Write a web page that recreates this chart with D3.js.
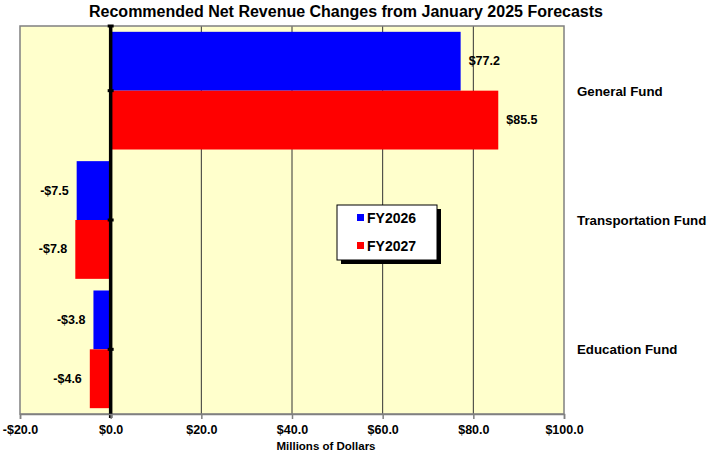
<!DOCTYPE html>
<html>
<head>
<meta charset="utf-8">
<script src="https://cdn.jsdelivr.net/npm/d3@7"></script>
<style>
  body { margin: 0; background: #fff; }
  text { font-family: "Liberation Sans", Arial, sans-serif; font-weight: bold; }
</style>
</head>
<body>
<div id="chart"></div>
<script>
const categories = ['General Fund', 'Transportation Fund', 'Education Fund']
const seriesNames = ['FY2026', 'FY2027']
const fy2026 = [77.2, -7.5, -3.8]
const fy2027 = [85.5, -7.8, -4.6]
const xTicks = [-20, 0, 20, 40, 60, 80, 100]
const colors = ['#0000ff', '#ff0000']

const width = 709, height = 456
const margin = { top: 26, right: 145, bottom: 42, left: 20 }
const innerW = width - margin.left - margin.right
const innerH = height - margin.top - margin.bottom

const svg = d3.select('#chart').append('svg')
  .attr('width', width).attr('height', height)

svg.append('text')
  .attr('x', 346).attr('y', 17)
  .attr('text-anchor', 'middle')
  .style('font-size', '16px')
  .text('Recommended Net Revenue Changes from January 2025 Forecasts')

const g = svg.append('g').attr('transform', `translate(${margin.left},${margin.top})`)

const x = d3.scaleLinear().domain([-20, 100]).range([0, innerW])
const y = d3.scaleBand().domain(categories).range([0, innerH]).paddingInner(0.09).paddingOuter(0.045)
const ySub = d3.scaleBand().domain(seriesNames).range([0, y.bandwidth()])

// plot background
g.append('rect')
  .attr('width', innerW).attr('height', innerH)
  .attr('fill', '#ffffcc')

// gridlines
g.selectAll('.grid').data(xTicks.filter(d => d > 0 && d < 100)).join('line')
  .attr('x1', d => x(d)).attr('x2', d => x(d))
  .attr('y1', 0).attr('y2', innerH)
  .attr('stroke', '#333').attr('stroke-width', 1)

// bars
const rows = categories.map((c, i) => ({ cat: c, vals: [fy2026[i], fy2027[i]] }))
const grp = g.selectAll('.cat').data(rows).join('g')
  .attr('transform', d => `translate(0,${y(d.cat)})`)

grp.selectAll('rect').data(d => d.vals.map((v, j) => ({ v, s: seriesNames[j], j })))
  .join('rect')
  .attr('x', d => x(Math.min(0, d.v)))
  .attr('width', d => Math.abs(x(d.v) - x(0)))
  .attr('y', d => ySub(d.s))
  .attr('height', ySub.bandwidth())
  .attr('fill', d => colors[d.j])

grp.selectAll('.lbl').data(d => d.vals.map((v, j) => ({ v, s: seriesNames[j], j })))
  .join('text')
  .attr('x', d => d.v >= 0 ? x(d.v) + 8 : x(d.v) - 8)
  .attr('y', d => ySub(d.s) + ySub.bandwidth() / 2 + 4)
  .attr('text-anchor', d => d.v >= 0 ? 'start' : 'end')
  .style('font-size', '12.5px')
  .text(d => (d.v < 0 ? '-$' : '$') + Math.abs(d.v).toFixed(1))

// border
g.append('rect')
  .attr('width', innerW).attr('height', innerH)
  .attr('fill', 'none').attr('stroke', '#808080').attr('stroke-width', 1.5)

// zero axis
g.append('line')
  .attr('x1', x(0)).attr('x2', x(0))
  .attr('y1', 0).attr('y2', innerH + 4)
  .attr('stroke', '#000').attr('stroke-width', 3.5)

const yTickPos = [0].concat(categories.map(c => y(c) + y.bandwidth() / 2))
g.selectAll('.ytick').data(yTickPos).join('line')
  .attr('x1', x(0) - 3).attr('x2', x(0) + 3)
  .attr('y1', d => d).attr('y2', d => d)
  .attr('stroke', '#000').attr('stroke-width', 3)

// category labels
g.selectAll('.catlbl').data(categories).join('text')
  .attr('x', innerW + 13)
  .attr('y', d => y(d) + y.bandwidth() / 2 + 5)
  .style('font-size', '13.3px')
  .text(d => d)

// x axis
const xAxis = g.append('g').attr('transform', `translate(0,${innerH})`)
  .call(d3.axisBottom(x).tickValues(xTicks).tickSize(5).tickFormat(d => (d < 0 ? '-$' : '$') + Math.abs(d).toFixed(1)))
xAxis.select('.domain').attr('stroke', '#808080').attr('stroke-width', 1.5)
xAxis.selectAll('.tick line').attr('stroke', '#808080').attr('stroke-width', 1.5)
xAxis.selectAll('.tick text')
  .attr('y', 11)
  .attr('fill', '#000')
  .style('font-size', '12.5px')
  .style('font-family', '"Liberation Sans", Arial, sans-serif')
  .style('font-weight', 'bold')

svg.append('text')
  .attr('x', 326).attr('y', 450)
  .attr('text-anchor', 'middle')
  .style('font-size', '11.5px')
  .text('Millions of Dollars')

// legend
const lg = svg.append('g').attr('transform', 'translate(337,205)')
lg.append('rect').attr('x', 4).attr('y', 4).attr('width', 100).attr('height', 55).attr('fill', '#000')
lg.append('rect').attr('width', 100).attr('height', 55).attr('fill', '#fff').attr('stroke', '#000').attr('stroke-width', 1)
seriesNames.forEach((s, i) => {
  lg.append('rect').attr('x', 20).attr('y', 9 + i * 28).attr('width', 7).attr('height', 7).attr('fill', colors[i])
  lg.append('text').attr('x', 30).attr('y', 18 + i * 28).style('font-size', '14px').text(s)
})
</script>
</body>
</html>
